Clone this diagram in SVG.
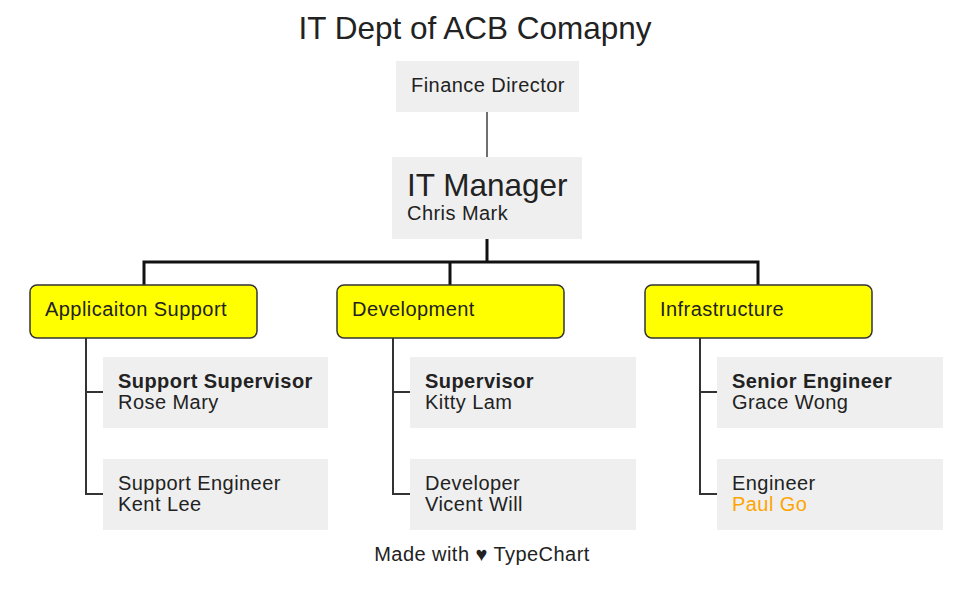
<svg xmlns="http://www.w3.org/2000/svg" width="973" height="597" viewBox="0 0 973 597">
<style>
text{font-family:"Liberation Sans",Arial,sans-serif;fill:#222;}
.t{font-size:20px;letter-spacing:0.45px;}
.b{font-weight:bold;}
.big{font-size:31.5px;}
.box{fill:#efefef;}
.dept{fill:#ffff00;stroke:#333;stroke-width:1.5;}
.thin{stroke:#222;stroke-width:1.3;fill:none;}
.thick{stroke:#111;stroke-width:3;fill:none;}
.tree{stroke:#333;stroke-width:2;fill:none;}
</style>
<rect width="973" height="597" fill="#fff"/>
<text class="big" x="475" y="39" text-anchor="middle">IT Dept of ACB Comapny</text>
<g id="connectors">
<path class="thin" d="M487 112V157"/>
<path class="thick" d="M487 239V262M144 285V262H758V285M450 262V285"/>
<path class="tree" d="M86 338V494H103M86 392H103"/>
<path class="tree" d="M393 338V494H410M393 392H410"/>
<path class="tree" d="M700 338V494H717M700 392H717"/>
</g>
<g id="finance"><rect class="box" x="396" y="61" width="183" height="51"/><text class="t" x="411" y="92">Finance Director</text></g>
<g id="manager"><rect class="box" x="392" y="157" width="190" height="82"/><text class="big" x="407" y="196">IT Manager</text><text class="t" x="407" y="220">Chris Mark</text></g>
<g id="appsupport"><rect class="dept" x="30" y="285" width="227" height="53" rx="7"/><text class="t" x="45" y="316">Applicaiton Support</text></g>
<g id="development"><rect class="dept" x="337" y="285" width="227" height="53" rx="7"/><text class="t" x="352" y="316">Development</text></g>
<g id="infrastructure"><rect class="dept" x="645" y="285" width="227" height="53" rx="7"/><text class="t" x="660" y="316">Infrastructure</text></g>
<g id="supsupervisor"><rect class="box" x="103" y="357" width="225" height="71"/><text class="t b" x="118" y="388">Support Supervisor</text><text class="t" x="118" y="409">Rose Mary</text></g>
<g id="supengineer"><rect class="box" x="103" y="459" width="225" height="71"/><text class="t" x="118" y="490">Support Engineer</text><text class="t" x="118" y="511">Kent Lee</text></g>
<g id="devsupervisor"><rect class="box" x="410" y="357" width="226" height="71"/><text class="t b" x="425" y="388">Supervisor</text><text class="t" x="425" y="409">Kitty Lam</text></g>
<g id="developer"><rect class="box" x="410" y="459" width="226" height="71"/><text class="t" x="425" y="490">Developer</text><text class="t" x="425" y="511">Vicent Will</text></g>
<g id="senioreng"><rect class="box" x="717" y="357" width="226" height="71"/><text class="t b" x="732" y="388">Senior Engineer</text><text class="t" x="732" y="409">Grace Wong</text></g>
<g id="engineer"><rect class="box" x="717" y="459" width="226" height="71"/><text class="t" x="732" y="490">Engineer</text><text class="t" x="732" y="511" style="fill:#ffa500">Paul Go</text></g>
<text class="t" x="482" y="561" text-anchor="middle">Made with ♥ TypeChart</text>
</svg>
